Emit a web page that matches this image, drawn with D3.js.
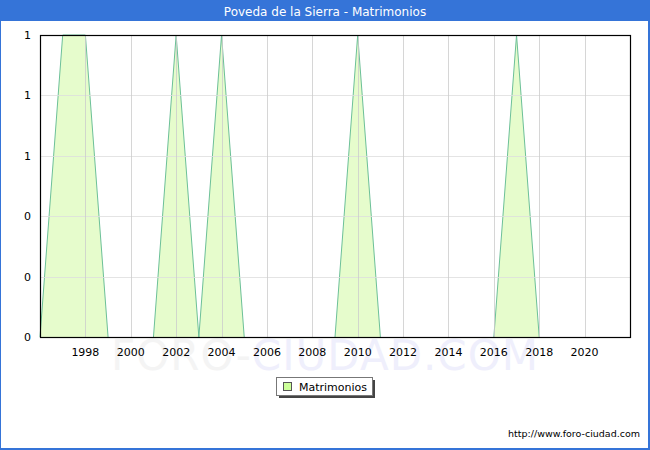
<!DOCTYPE html>
<html><head><meta charset="utf-8">
<script src="https://cdn.jsdelivr.net/npm/d3@7"></script>
<style>body{margin:0;background:#fff}svg{display:block}</style>
</head><body>
<script>
const years = [1996,1997,1998,1999,2000,2001,2002,2003,2004,2005,2006,2007,2008,2009,2010,2011,2012,2013,2014,2015,2016,2017,2018,2019,2020,2021];
const values = [0,1,1,0,0,0,1,0,1,0,0,0,0,0,1,0,0,0,0,0,0,1,0,0,0,0];
const xTicks = [1998,2000,2002,2004,2006,2008,2010,2012,2014,2016,2018,2020];
const yTicks = [0,0.2,0.4,0.6,0.8,1];
const yTickLabels = ["0","0","0","1","1","1"];
const title = "Poveda de la Sierra - Matrimonios";
const seriesName = "Matrimonios";

const W=650,H=450;
const svg=d3.select("body").append("svg").attr("width",W).attr("height",H);
svg.append("rect").attr("x",0).attr("y",0).attr("width",W).attr("height",H).attr("fill","#fff");
svg.append("rect").attr("x",0.5).attr("y",0.5).attr("width",W-2).attr("height",H-2).attr("fill","none").attr("stroke","#3574d8").attr("stroke-width",1);
svg.append("rect").attr("x",W-2).attr("y",0).attr("width",2).attr("height",H).attr("fill","#3574d8");
svg.append("rect").attr("x",0).attr("y",H-2).attr("width",W).attr("height",2).attr("fill","#3574d8");
svg.append("rect").attr("x",0).attr("y",0).attr("width",W).attr("height",21).attr("fill","#3574d8");
svg.append("text").attr("x",W/2).attr("y",15.5).attr("text-anchor","middle").attr("fill","#fff")
  .attr("font-family","DejaVu Sans").attr("font-size",12).text(title);

const L=40,R=630,T=35,B=337;
const x=d3.scaleLinear().domain([1996,2022]).range([L,R]);
const y=d3.scaleLinear().domain([0,1]).range([B,T]);

// watermark
const wm=svg.append("text").attr("x",325).attr("y",370).attr("text-anchor","middle")
  .attr("font-family","DejaVu Sans").attr("font-size",42).attr("letter-spacing",1);
wm.append("tspan").attr("fill","#f4f4f4").text("FORO-");
wm.append("tspan").attr("fill","#efeffc").text("CIUDAD.COM");

// grid
const g=svg.append("g");
g.selectAll(".hg").data(yTicks).join("line").attr("x1",L).attr("x2",R)
  .attr("y1",d=>Math.round(y(d))+0.5).attr("y2",d=>Math.round(y(d))+0.5).attr("stroke","#dddddd");
g.selectAll(".vg").data(xTicks).join("line").attr("y1",T).attr("y2",B)
  .attr("x1",d=>Math.round(x(d))+0.5).attr("x2",d=>Math.round(x(d))+0.5).attr("stroke","#cccccc");

// area
const data=years.map((yr,i)=>({yr,v:values[i]}));
const area=d3.area().x(d=>x(d.yr)).y0(y(0)).y1(d=>y(d.v));
svg.append("path").datum(data).attr("d",area).attr("fill","#e6fccc").attr("stroke","none");
// outline only on segments that are not flat at zero
const segs=d3.pairs(data).filter(([a,b])=>a.v!==0||b.v!==0);
const line=d3.line().x(d=>x(d.yr)).y(d=>y(d.v));
svg.selectAll(".seg").data(segs).join("path").attr("d",d=>line(d))
  .attr("fill","none").attr("stroke","#6cc098").attr("stroke-width",1);
g.raise();
g.selectAll("line").attr("stroke-opacity",0.8);

// frame
svg.append("rect").attr("x",L+0.5).attr("y",T+0.5).attr("width",R-L).attr("height",B-T)
  .attr("fill","none").attr("stroke","#000").attr("stroke-width",1.2);

// axis labels
svg.selectAll(".xl").data(xTicks).join("text").attr("x",d=>x(d)).attr("y",356)
  .attr("text-anchor","middle").attr("font-family","DejaVu Sans").attr("font-size",11).attr("fill","#000").text(d=>d);
svg.selectAll(".yl").data(yTicks).join("text").attr("x",31).attr("y",d=>y(d)+4)
  .attr("text-anchor","end").attr("font-family","DejaVu Sans").attr("font-size",11).attr("fill","#000").text((d,i)=>yTickLabels[i]);

// legend
const lg=svg.append("g");
lg.append("rect").attr("x",279).attr("y",380).attr("width",96).attr("height",18).attr("fill","#444");
lg.append("rect").attr("x",276.5).attr("y",377.5).attr("width",96).attr("height",18).attr("fill","#fff").attr("stroke","#777");
lg.append("rect").attr("x",283.5).attr("y",382.5).attr("width",8).attr("height",8).attr("fill","#ccff99").attr("stroke","#555");
lg.append("text").attr("x",299).attr("y",391).attr("font-family","DejaVu Sans").attr("font-size",11).attr("fill","#000").text(seriesName);

svg.append("text").attr("x",640).attr("y",437).attr("text-anchor","end").attr("font-family","DejaVu Sans")
  .attr("font-size",9.5).attr("fill","#000").text("http://www.foro-ciudad.com");
</script>
</body></html>
